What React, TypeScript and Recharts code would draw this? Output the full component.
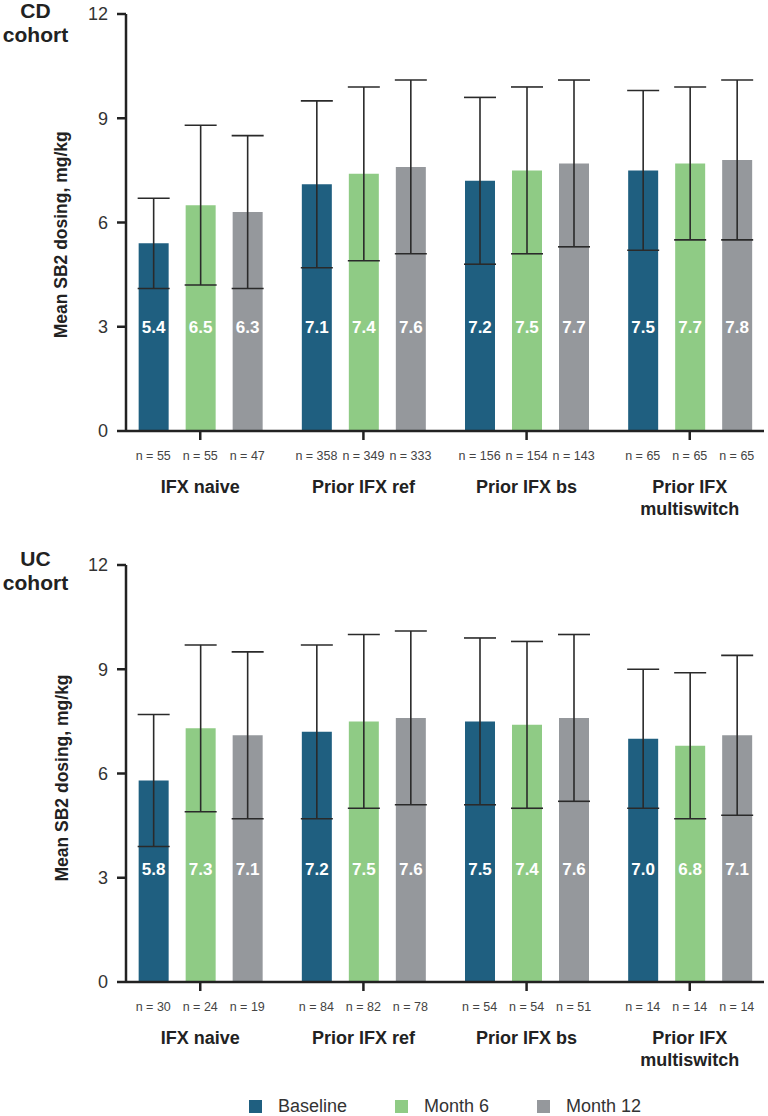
import React from 'react';
import { BarChart, Bar, XAxis, YAxis, ErrorBar, LabelList, Label, Legend } from 'recharts';

const categoryLines: string[][] = [['IFX naive'], ['Prior IFX ref'], ['Prior IFX bs'], ['Prior IFX', 'multiswitch']];
const seriesNames = ['Baseline', 'Month 6', 'Month 12'];
const yTicks = [0, 3, 6, 9, 12];
const xTicks = [0, 1, 2, 3];

const cdBaseline = [5.4, 7.1, 7.2, 7.5];
const cdMonth6 = [6.5, 7.4, 7.5, 7.7];
const cdMonth12 = [6.3, 7.6, 7.7, 7.8];
const cdBaselineSd = [1.3, 2.4, 2.4, 2.3];
const cdMonth6Sd = [2.3, 2.5, 2.4, 2.2];
const cdMonth12Sd = [2.2, 2.5, 2.4, 2.3];
const cdBaselineN = [55, 358, 156, 65];
const cdMonth6N = [55, 349, 154, 65];
const cdMonth12N = [47, 333, 143, 65];

const ucBaseline = [5.8, 7.2, 7.5, 7.0];
const ucMonth6 = [7.3, 7.5, 7.4, 6.8];
const ucMonth12 = [7.1, 7.6, 7.6, 7.1];
const ucBaselineSd = [1.9, 2.5, 2.4, 2.0];
const ucMonth6Sd = [2.4, 2.5, 2.4, 2.1];
const ucMonth12Sd = [2.4, 2.5, 2.4, 2.3];
const ucBaselineN = [30, 84, 54, 14];
const ucMonth6N = [24, 82, 54, 14];
const ucMonth12N = [19, 78, 51, 14];

const COLORS = ['#1f5f80', '#8fcb85', '#95989c'];
const FONT = '"Liberation Sans", Arial, Helvetica, sans-serif';
const BAR_SIZE = 30;
const BAR_GAP = 17;
const AXIS = '#222222';

type Row = {
  pos: number;
  b: number; m6: number; m12: number;
  bSd: number; m6Sd: number; m12Sd: number;
  bN: number; m6N: number; m12N: number;
};

const buildRows = (
  b: number[], m6: number[], m12: number[],
  bSd: number[], m6Sd: number[], m12Sd: number[],
  bN: number[], m6N: number[], m12N: number[],
): Row[] =>
  b.map((_, i) => ({
    pos: i,
    b: b[i], m6: m6[i], m12: m12[i],
    bSd: bSd[i], m6Sd: m6Sd[i], m12Sd: m12Sd[i],
    bN: bN[i], m6N: m6N[i], m12N: m12N[i],
  }));

const cdRows = buildRows(cdBaseline, cdMonth6, cdMonth12, cdBaselineSd, cdMonth6Sd, cdMonth12Sd, cdBaselineN, cdMonth6N, cdMonth12N);
const ucRows = buildRows(ucBaseline, ucMonth6, ucMonth12, ucBaselineSd, ucMonth6Sd, ucMonth12Sd, ucBaselineN, ucMonth6N, ucMonth12N);

const makeTick = (rows: Row[]) => (props: any) => {
  const { x, y, payload } = props;
  const i = Math.round(Number(payload.value));
  const row = rows[i];
  if (!row) return <g />;
  const step = BAR_SIZE + BAR_GAP;
  const ns = [row.bN, row.m6N, row.m12N];
  return (
    <g>
      {ns.map((n, k) => (
        <text key={'n' + k} x={x + (k - 1) * step} y={y + 20} textAnchor="middle" fontSize={12.5} fill="#444" fontFamily={FONT}>
          {`n = ${n}`}
        </text>
      ))}
      {categoryLines[i].map((line, k) => (
        <text key={'c' + k} x={x} y={y + 53 + k * 22} textAnchor="middle" fontSize={18} fontWeight="bold" fill="#222" fontFamily={FONT}>
          {line}
        </text>
      ))}
    </g>
  );
};

const makeValueLabel = (labelAt: number) => (props: any) => {
  const vb = props.viewBox && props.viewBox.width != null ? props.viewBox : props;
  const x = Number(vb.x), y = Number(vb.y), width = Number(vb.width), height = Number(vb.height);
  const value = Number(props.value);
  if (!value || !isFinite(height)) return null;
  const bottom = y + height;
  const ly = bottom - (height * labelAt) / value;
  return (
    <text x={x + width / 2} y={ly} dy="0.35em" textAnchor="middle" fill="#ffffff" fontWeight="bold" fontSize={17} fontFamily={FONT}>
      {value.toFixed(1)}
    </text>
  );
};

const makeYLabel = (shift: number) => (props: any) => {
  const vb = props.viewBox || {};
  const tx = vb.x + 1.5;
  const ty = vb.y + vb.height / 2 + shift;
  return (
    <text x={tx} y={ty} transform={`rotate(-90, ${tx}, ${ty})`} textAnchor="middle" fontSize={17.5} fontWeight="bold" fill="#222" fontFamily={FONT}>
      Mean SB2 dosing, mg/kg
    </text>
  );
};

const renderLegend = () => (
  <div style={{ display: 'flex', justifyContent: 'center', alignItems: 'center', fontFamily: FONT, fontSize: 18, color: '#333', lineHeight: '21px' }}>
    {seriesNames.map((name, i) => (
      <div key={name} style={{ display: 'flex', alignItems: 'center', marginLeft: i ? 48 : 0 }}>
        <span style={{ width: 13, height: 13, background: COLORS[i], marginRight: 16, display: 'inline-block' }} />
        <span>{name}</span>
      </div>
    ))}
  </div>
);

type PanelProps = { rows: Row[]; height: number; marginBottom: number; labelAt: number; yShift: number; legend?: boolean };

const Panel = ({ rows, height, marginBottom, labelAt, yShift, legend }: PanelProps) => {
  const valueLabel = makeValueLabel(labelAt);
  const errProps = { width: 16, strokeWidth: 1.6, stroke: '#2a2a2a', direction: 'y' as const };
  return (
    <BarChart width={768} height={height} data={rows} margin={{ top: 14, right: 4, bottom: marginBottom, left: 66 }} barGap={BAR_GAP}>
      <XAxis
        type="number"
        dataKey="pos"
        domain={[-0.455, 3.455]}
        ticks={xTicks}
        interval={0}
        height={100}
        tickSize={9}
        tickMargin={0}
        axisLine={{ stroke: AXIS, strokeWidth: 2.5 }}
        tickLine={{ stroke: AXIS, strokeWidth: 2.5 }}
        tick={makeTick(rows)}
        allowDataOverflow
      />
      <YAxis
        type="number"
        domain={[0, 12]}
        ticks={yTicks}
        interval={0}
        width={60}
        tickSize={9}
        tickMargin={9}
        axisLine={{ stroke: AXIS, strokeWidth: 2.5 }}
        tickLine={{ stroke: AXIS, strokeWidth: 2.5 }}
        tick={{ fill: '#333', fontSize: 18, fontFamily: FONT }}
      >
        <Label content={makeYLabel(yShift)} />
      </YAxis>
      <Bar dataKey="b" name={seriesNames[0]} fill={COLORS[0]} barSize={BAR_SIZE} isAnimationActive={false}>
        <ErrorBar dataKey="bSd" {...errProps} />
        <LabelList dataKey="b" content={valueLabel} />
      </Bar>
      <Bar dataKey="m6" name={seriesNames[1]} fill={COLORS[1]} barSize={BAR_SIZE} isAnimationActive={false}>
        <ErrorBar dataKey="m6Sd" {...errProps} />
        <LabelList dataKey="m6" content={valueLabel} />
      </Bar>
      <Bar dataKey="m12" name={seriesNames[2]} fill={COLORS[2]} barSize={BAR_SIZE} isAnimationActive={false}>
        <ErrorBar dataKey="m12Sd" {...errProps} />
        <LabelList dataKey="m12" content={valueLabel} />
      </Bar>
      {legend ? (
        <Legend
          verticalAlign="middle"
          align="center"
          layout="horizontal"
          wrapperStyle={{ top: 545, left: 126, width: 638, height: 22 }}
          content={renderLegend}
        />
      ) : null}
    </BarChart>
  );
};

const titleStyle: React.CSSProperties = {
  position: 'absolute',
  left: 0,
  width: 71,
  textAlign: 'center',
  fontWeight: 'bold',
  fontSize: 21,
  lineHeight: '23.7px',
  color: '#222',
  fontFamily: FONT,
};

export default function App() {
  return (
    <div style={{ position: 'absolute', left: 0, top: 0, width: 768, height: 1116, background: '#fff', fontFamily: FONT, overflow: 'hidden' }}>
      <div style={{ position: 'absolute', left: 0, top: 0 }}>
        <Panel rows={cdRows} height={551} marginBottom={20} labelAt={2.98} yShift={12.3} />
      </div>
      <div style={{ position: 'absolute', left: 0, top: 551 }}>
        <Panel rows={ucRows} height={565} marginBottom={34} labelAt={3.25} yShift={4.5} legend />
      </div>
      <div style={{ ...titleStyle, top: -1 }}>CD<br />cohort</div>
      <div style={{ ...titleStyle, top: 547 }}>UC<br />cohort</div>
    </div>
  );
}
